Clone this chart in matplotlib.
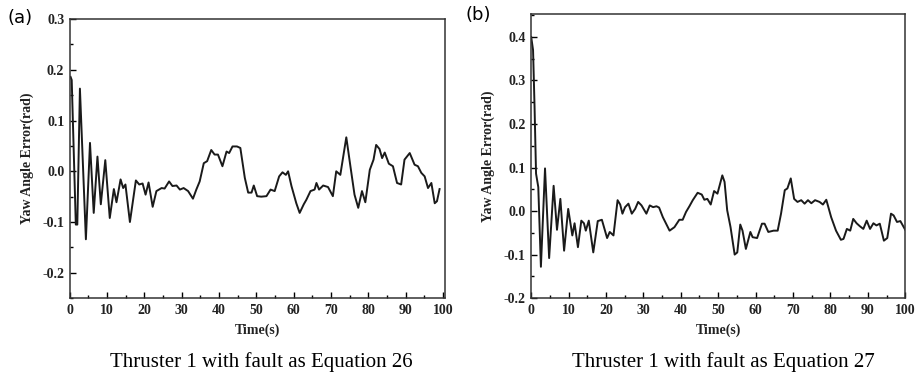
import matplotlib
matplotlib.use("Agg")
from matplotlib import pyplot as plt
from matplotlib.ticker import MultipleLocator, FormatStrFormatter

# panel (a): Equation 26
t_a = [0.2, 0.5, 1.6, 2.0, 2.7, 4.3, 5.4, 6.4, 7.4, 8.3, 9.5, 10.7, 11.8, 12.5, 13.6,
       14.3, 14.9, 16.1, 17.7, 18.6, 19.5, 20.3, 21.1, 22.2, 23.2, 24.6, 25.4, 26.6,
       27.5, 28.6, 29.5, 30.5, 31.7, 33.0, 33.9, 34.8, 35.9, 36.8, 37.9, 38.8, 39.7,
       40.9, 42.0, 42.7, 43.6, 44.8, 45.7, 46.9, 47.8, 48.7, 49.3, 50.2, 51.3, 52.7,
       53.8, 54.9, 56.1, 57.0, 57.9, 58.5, 59.4, 60.7, 61.6, 62.7, 63.4, 64.5, 65.6,
       66.1, 66.8, 67.9, 69.2, 70.5, 71.4, 72.5, 74.1, 75.2, 76.3, 77.3, 78.3, 79.2,
       80.4, 81.4, 82.1, 83.0, 83.7, 84.4, 85.5, 86.6, 87.7, 88.8, 89.7, 91.1, 92.4,
       93.3, 94.2, 95.1, 96.0, 96.9, 97.8, 98.4, 99.1]
e_a = [0.186, 0.18, -0.105, -0.105, 0.163, -0.134, 0.056, -0.082, 0.029, -0.065, 0.022,
       -0.092, -0.035, -0.061, -0.016, -0.033, -0.026, -0.1, -0.018, -0.026, -0.024,
       -0.046, -0.022, -0.07, -0.039, -0.033, -0.034, -0.02, -0.029, -0.028, -0.036,
       -0.033, -0.039, -0.054, -0.036, -0.02, 0.016, 0.02, 0.042, 0.033, 0.033, 0.01,
       0.039, 0.036, 0.049, 0.049, 0.046, -0.013, -0.042, -0.042, -0.028, -0.049, -0.05,
       -0.049, -0.036, -0.039, -0.01, -0.002, -0.007, 0.0, -0.029, -0.063, -0.082,
       -0.065, -0.056, -0.039, -0.036, -0.023, -0.036, -0.028, -0.031, -0.049, 0.0,
       -0.007, 0.067, 0.01, -0.046, -0.072, -0.039, -0.061, 0.003, 0.023, 0.052, 0.044,
       0.026, 0.037, 0.015, 0.01, -0.023, -0.026, 0.023, 0.036, 0.013, 0.01, -0.003,
       -0.01, -0.033, -0.023, -0.063, -0.059, -0.035]

# panel (b): Equation 27
t_b = [0.0, 0.5, 0.9, 1.3, 1.9, 2.6, 3.7, 4.8, 6.0, 6.9, 7.8, 8.8, 9.9, 11.0, 11.6,
       12.5, 13.4, 14.1, 14.6, 15.4, 16.6, 17.8, 18.9, 20.3, 21.0, 22.0, 23.1, 23.8,
       24.4, 25.1, 26.0, 26.9, 27.8, 28.6, 29.5, 30.8, 31.7, 32.6, 33.5, 34.2, 35.2,
       37.0, 38.3, 39.6, 40.5, 41.4, 42.3, 43.2, 44.5, 45.6, 46.3, 47.1, 48.0, 48.9,
       49.8, 51.1, 51.7, 52.4, 53.3, 54.4, 55.1, 55.9, 56.5, 57.4, 58.6, 59.2, 60.4,
       61.7, 62.4, 63.4, 64.8, 65.9, 66.8, 67.8, 68.5, 69.4, 70.3, 71.2, 72.2, 73.1,
       74.0, 74.9, 75.9, 77.1, 78.0, 78.9, 80.2, 81.5, 82.8, 83.5, 84.4, 85.3, 86.1,
       87.0, 87.9, 88.8, 89.7, 90.6, 91.5, 92.3, 93.2, 94.3, 95.2, 96.2, 96.9, 97.8,
       98.7, 100.0]
e_b = [0.4, 0.37, 0.24, 0.086, 0.055, -0.128, 0.098, -0.108, 0.058, -0.043, 0.028,
       -0.091, 0.005, -0.056, -0.028, -0.083, -0.022, -0.028, -0.045, -0.022, -0.095,
       -0.023, -0.02, -0.062, -0.048, -0.056, 0.025, 0.015, -0.006, 0.009, 0.017,
       -0.006, 0.005, 0.021, 0.013, -0.006, 0.013, 0.009, 0.011, 0.008, -0.014, -0.045,
       -0.037, -0.02, -0.02, -0.002, 0.011, 0.025, 0.042, 0.038, 0.026, 0.028, 0.015,
       0.046, 0.04, 0.082, 0.067, 0.002, -0.037, -0.1, -0.095, -0.031, -0.045, -0.087,
       -0.048, -0.06, -0.062, -0.029, -0.029, -0.048, -0.045, -0.045, -0.006, 0.048,
       0.052, 0.075, 0.028, 0.021, 0.025, 0.017, 0.025, 0.018, 0.025, 0.021, 0.015,
       0.026, -0.014, -0.045, -0.066, -0.064, -0.041, -0.045, -0.018, -0.028, -0.035,
       -0.041, -0.022, -0.041, -0.028, -0.033, -0.029, -0.068, -0.062, -0.006, -0.01,
       -0.025, -0.023, -0.043]

serif = "Liberation Serif"
fig = plt.figure(figsize=(9.19, 3.75), dpi=100)
ax1 = fig.add_axes([0.076, 0.205, 0.408, 0.744])
ax2 = fig.add_axes([0.578, 0.205, 0.407, 0.758])


def style(ax, xlim, ylim):
    ax.set_xlim(*xlim)
    ax.set_ylim(*ylim)
    ax.xaxis.set_major_locator(MultipleLocator(10))
    ax.xaxis.set_minor_locator(MultipleLocator(5))
    ax.yaxis.set_major_locator(MultipleLocator(0.1))
    ax.yaxis.set_minor_locator(MultipleLocator(0.05))
    ax.yaxis.set_major_formatter(FormatStrFormatter("%.1f"))
    ax.tick_params(which="both", direction="in", top=False, right=False)
    ax.tick_params(which="major", length=4, width=1, pad=4)
    ax.tick_params(which="minor", length=2.5, width=1)
    for lab in ax.get_xticklabels() + ax.get_yticklabels():
        lab.set_fontfamily(serif)
        lab.set_fontweight("bold")
        lab.set_fontsize(10)
        lab.set_color("#222222")
    for sp in ax.spines.values():
        sp.set_linewidth(1.1)
        sp.set_color("#333333")
    ax.set_xlabel("Time(s)", fontfamily=serif, fontweight="bold", fontsize=10,
                  color="#222222", labelpad=5)
    ax.set_ylabel("Yaw Angle Error(rad)", fontfamily=serif, fontweight="bold",
                  fontsize=10, color="#222222", labelpad=6)


ax1.plot(t_a, e_a, color="#1a1a1a", lw=1.4)
style(ax1, (0, 100.5), (-0.25, 0.3))
ax2.plot(t_b, e_b, color="#1a1a1a", lw=1.4)
style(ax2, (0, 100), (-0.2, 0.453))

fig.text(0.008, 0.952, "(a)", fontsize=13, va="center", ha="left")
fig.text(0.506, 0.96, "(b)", fontsize=13, va="center", ha="left")
fig.text(0.284, 0.035, "Thruster 1 with fault as Equation 26", fontfamily=serif,
         fontsize=15, ha="center", va="center")
fig.text(0.787, 0.035, "Thruster 1 with fault as Equation 27", fontfamily=serif,
         fontsize=15, ha="center", va="center")

fig.savefig("out.png", dpi=100)
